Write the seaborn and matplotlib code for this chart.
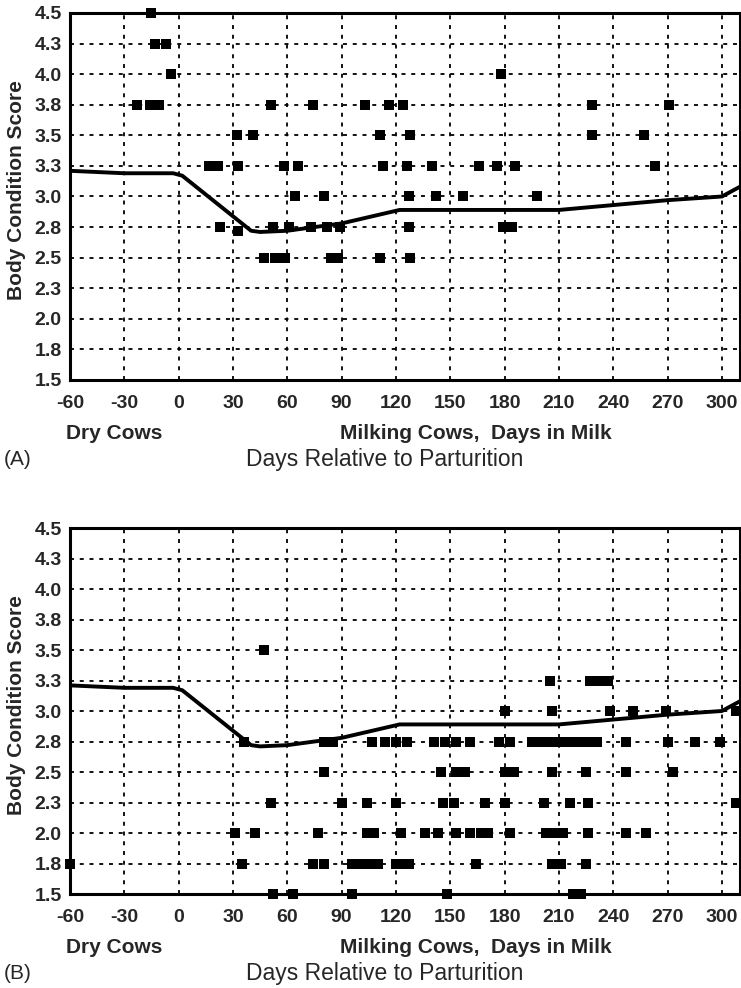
import seaborn as sns
import matplotlib.pyplot as plt
from matplotlib.ticker import MultipleLocator

# herd average body condition curve (same in both panels)
curve_days = [-60, -30, -3, 2, 40, 45, 60, 90, 122, 210, 240, 270, 300, 310]
curve_bcs = [3.21, 3.19, 3.19, 3.17, 2.72, 2.71, 2.72, 2.78, 2.89, 2.89, 2.93, 2.97, 3.00, 3.08]

# panel A: individual cows
a_days = [-15,
          -13, -7,
          -4, 178,
          -23, -16, -11, 51, 74, 103, 116, 124, 228, 271,
          32, 41, 111, 128, 228, 257,
          17, 22, 33, 58, 66, 113, 126, 140, 166, 176, 186, 263,
          64, 80, 127, 142, 157, 198,
          23, 52, 61, 73, 82, 89, 127, 179, 184,
          33,
          47, 53, 59, 84, 88, 111, 128]
a_bcs = [4.5,
         4.25, 4.25,
         4.0, 4.0,
         3.75, 3.75, 3.75, 3.75, 3.75, 3.75, 3.75, 3.75, 3.75, 3.75,
         3.5, 3.5, 3.5, 3.5, 3.5, 3.5,
         3.25, 3.25, 3.25, 3.25, 3.25, 3.25, 3.25, 3.25, 3.25, 3.25, 3.25, 3.25,
         3.0, 3.0, 3.0, 3.0, 3.0, 3.0,
         2.75, 2.75, 2.75, 2.75, 2.75, 2.75, 2.75, 2.75, 2.75,
         2.72,
         2.5, 2.5, 2.5, 2.5, 2.5, 2.5, 2.5]

# panel B: individual cows
b_days = [47,
          205, 227, 232, 237,
          180, 206, 238, 251, 269, 308,
          36, 80, 85, 107, 114, 120, 126, 141, 147, 153, 161, 177, 183, 195,
          200, 205, 208, 213, 217, 221, 226, 231, 247, 270, 285, 299,
          80, 145, 153, 158, 180, 185, 206, 225, 247, 273,
          51, 90, 104, 120, 146, 152, 169, 180, 202, 216, 226, 308,
          31, 42, 77, 104, 108, 123, 136, 143, 153, 161, 167, 171, 183,
          203, 208, 212, 226, 247, 258,
          -60, 35, 74, 80, 96, 101, 106, 110, 120, 124, 127, 164, 206, 211, 225,
          52, 63, 96, 148, 218, 222]
b_bcs = [3.5,
         3.25, 3.25, 3.25, 3.25,
         3.0, 3.0, 3.0, 3.0, 3.0, 3.0,
         2.75, 2.75, 2.75, 2.75, 2.75, 2.75, 2.75, 2.75, 2.75, 2.75, 2.75, 2.75, 2.75, 2.75,
         2.75, 2.75, 2.75, 2.75, 2.75, 2.75, 2.75, 2.75, 2.75, 2.75, 2.75, 2.75,
         2.5, 2.5, 2.5, 2.5, 2.5, 2.5, 2.5, 2.5, 2.5, 2.5,
         2.25, 2.25, 2.25, 2.25, 2.25, 2.25, 2.25, 2.25, 2.25, 2.25, 2.25, 2.25,
         2.0, 2.0, 2.0, 2.0, 2.0, 2.0, 2.0, 2.0, 2.0, 2.0, 2.0, 2.0, 2.0,
         2.0, 2.0, 2.0, 2.0, 2.0, 2.0,
         1.75, 1.75, 1.75, 1.75, 1.75, 1.75, 1.75, 1.75, 1.75, 1.75, 1.75, 1.75, 1.75, 1.75, 1.75,
         1.5, 1.5, 1.5, 1.5, 1.5, 1.5]

x_ticks = [-60, -30, 0, 30, 60, 90, 120, 150, 180, 210, 240, 270, 300]
y_ticks = [1.5, 1.75, 2.0, 2.25, 2.5, 2.75, 3.0, 3.25, 3.5, 3.75, 4.0, 4.25, 4.5]
y_labels = ["1.5", "1.8", "2.0", "2.3", "2.5", "2.8", "3.0", "3.3", "3.5", "3.8", "4.0", "4.3", "4.5"]

W, H = 741, 988

sns.set_theme(style="white")
plt.rcParams['font.family'] = ['Liberation Sans', 'DejaVu Sans']
plt.rcParams['axes.unicode_minus'] = False


def draw_panel(fig, top, bottom, days, bcs, tag):
    ax = fig.add_axes([70 / W, 1 - bottom / H, 670 / W, (bottom - top) / H])
    sns.lineplot(x=curve_days, y=curve_bcs, color="black", linewidth=2.8, ax=ax, zorder=4)
    sns.scatterplot(x=days, y=bcs, marker="s", s=48, color="black", linewidth=0,
                    ax=ax, zorder=5, clip_on=False)
    ax.set_xlim(-60, 310)
    ax.set_ylim(1.5, 4.5)
    ax.set_xticks(x_ticks)
    ax.set_yticks(y_ticks)
    ax.set_yticklabels(y_labels)
    ax.xaxis.set_minor_locator(MultipleLocator(10))
    ax.yaxis.set_minor_locator(MultipleLocator(0.125))
    ax.grid(True, which="major", color="black", linestyle=(0, (2.2, 3.2)), linewidth=1.3)
    ax.tick_params(which="major", direction="inout", length=8, width=1.3, color="black",
                   labelsize=14, pad=2)
    ax.tick_params(axis="x", which="major", pad=7)
    ax.tick_params(which="minor", direction="inout", length=6, width=1.3, color="black")
    for lab in ax.get_xticklabels() + ax.get_yticklabels():
        lab.set_fontweight("bold")
    for sp in ax.spines.values():
        sp.set_linewidth(2.2)
        sp.set_color("black")
        sp.set_visible(True)
    ax.set_xlabel("")
    ax.set_ylabel("")

    mid = (top + bottom) / 2 - 6
    fig.text(17 / W, 1 - mid / H, "Body Condition Score", rotation=90, ha="center",
             va="center", fontsize=15, fontweight="bold")
    fig.text(66 / W, 1 - (bottom + 53) / H, "Dry Cows", ha="left", va="center",
             fontsize=15, fontweight="bold")
    fig.text(476 / W, 1 - (bottom + 53) / H, "Milking Cows,  Days in Milk", ha="center",
             va="center", fontsize=15, fontweight="bold")
    fig.text(4 / W, 1 - (bottom + 79) / H, tag, ha="left", va="center", fontsize=15)
    fig.text(385 / W, 1 - (bottom + 79) / H, "Days Relative to Parturition", ha="center",
             va="center", fontsize=16.5)
    return ax


fig = plt.figure(figsize=(W / 100, H / 100), dpi=100)
draw_panel(fig, 13, 380, a_days, a_bcs, "(A)")
draw_panel(fig, 528, 894, b_days, b_bcs, "(B)")
fig.savefig("out.png", dpi=100)
